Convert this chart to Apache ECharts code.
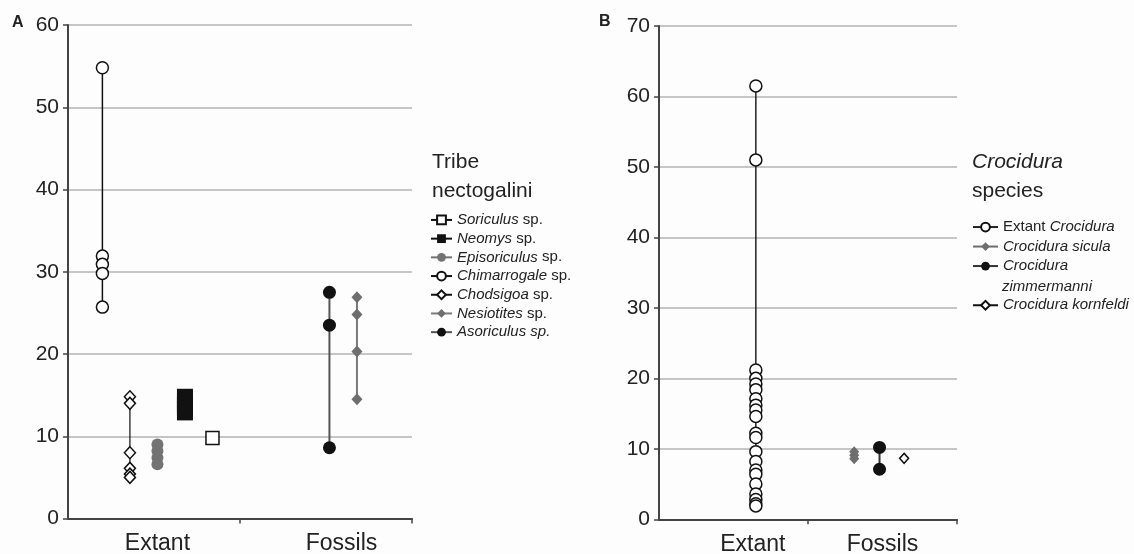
<!DOCTYPE html>
<html>
<head>
<meta charset="utf-8">
<script src="https://cdn.jsdelivr.net/npm/echarts@6/dist/echarts.min.js"></script>
<style>
  html, body { margin: 0; padding: 0; background: #fdfdfd; }
  #chart { width: 1134px; height: 554px; }
</style>
</head>
<body>
<div id="chart"></div>
<script>
// ---- Panel A: tribe Nectogalini ----
const groupsA = ['Extant', 'Fossils'];
const soriculus = [9.8];
const neomys = [14.8, 14.3, 13.8, 13.4, 12.9];
const episoriculus = [9.0, 8.2, 7.4, 6.6];
const chimarrogale = [54.8, 31.9, 30.9, 29.8, 25.7];
const chodsigoa = [14.8, 14.0, 8.0, 6.1, 5.4, 5.0];
const nesiotites = [26.9, 24.8, 20.3, 14.5];
const asoriculus = [27.5, 23.5, 8.6];

// ---- Panel B: Crocidura species ----
const groupsB = ['Extant', 'Fossils'];
const extantCrocidura = [61.5, 51.0, 21.2, 20.0, 19.2, 18.4, 17.1, 16.2, 15.5, 14.6,
                         12.2, 11.6, 9.6, 8.2, 7.0, 6.4, 5.0, 3.6, 2.8, 2.2, 1.9];
const crocSicula = [9.6, 9.1, 8.6];
const crocZimmermanni = [10.2, 7.1];
const crocKornfeldi = [8.65];

// y-axis ranges
const yMaxA = 60, yMaxB = 70, yStep = 10;

const FONT = '"Liberation Sans", Arial, Helvetica, sans-serif';
const TXT = '#222';
const AX = '#444';
const GRIDLINE = '#b3b3b3';

// Horizontal slot of each series inside its group (value axis 0..2, group boundary at 1)
const slotA = { chimarrogale: 0.20, chodsigoa: 0.36, episoriculus: 0.52, neomys: 0.68, soriculus: 0.84,
                asoriculus: 1.52, nesiotites: 1.68 };
const slotB = { extant: 0.65, sicula: 1.31, zimmermanni: 1.48, kornfeldi: 1.645 };

function pts(x, values) { return values.map(v => [x, v]); }

function legendRich(lh) {
  return {
    fontFamily: FONT, fontSize: 15, color: TXT, lineHeight: lh,
    rich: {
      i: { fontFamily: FONT, fontSize: 15, color: TXT, fontStyle: 'italic', lineHeight: lh },
      n: { fontFamily: FONT, fontSize: 15, color: TXT, lineHeight: lh }
    }
  };
}

function xAxisFor(gridIndex, groups, labelPos) {
  return {
    type: 'value', gridIndex, min: 0, max: 2,
    axisLine: { show: true, onZero: false, lineStyle: { color: AX, width: 2 } },
    axisTick: { show: true, customValues: [1, 2], length: 5, lineStyle: { color: AX, width: 1.5 } },
    splitLine: { show: false },
    axisLabel: {
      show: true,
      customValues: labelPos,
      formatter: v => (v < 1 ? groups[0] : groups[1]),
      fontFamily: FONT, fontSize: 23, color: TXT, margin: 14
    }
  };
}

function yAxisFor(gridIndex, max) {
  return {
    type: 'value', gridIndex, min: 0, max, interval: yStep,
    axisLine: { show: true, lineStyle: { color: AX, width: 2 } },
    axisTick: { show: true, length: 5, lineStyle: { color: AX, width: 1.5 } },
    splitLine: { show: true, lineStyle: { color: GRIDLINE, width: 1.5 } },
    axisLabel: { fontFamily: FONT, fontSize: 21, color: TXT, margin: 9 }
  };
}

function species(name, xi, data, symbol, size, fill, border, lineColor, lineWidth) {
  return {
    name, type: 'line', xAxisIndex: xi, yAxisIndex: xi,
    data, symbol, symbolSize: size, showAllSymbol: true,
    itemStyle: { color: fill, borderColor: border, borderWidth: border === fill ? 0 : 1.5, opacity: 1 },
    lineStyle: { color: lineColor, width: lineWidth },
    emphasis: { disabled: true },
    z: 3
  };
}

const seriesA = [
  species('Soriculus sp.', 0, pts(slotA.soriculus, soriculus), 'rect', 13, '#ffffff', '#111111', '#111111', 1.5),
  species('Neomys sp.', 0, pts(slotA.neomys, neomys), 'rect', 16, '#111111', '#111111', '#111111', 1.5),
  species('Episoriculus sp.', 0, pts(slotA.episoriculus, episoriculus), 'circle', 12, '#737373', '#737373', '#737373', 1.5),
  species('Chimarrogale sp.', 0, pts(slotA.chimarrogale, chimarrogale), 'circle', 12, '#ffffff', '#111111', '#111111', 1.5),
  species('Chodsigoa sp.', 0, pts(slotA.chodsigoa, chodsigoa), 'diamond', [11, 12], '#ffffff', '#111111', '#111111', 1.2),
  species('Nesiotites sp.', 0, pts(slotA.nesiotites, nesiotites), 'diamond', [11, 12], '#6e6e6e', '#6e6e6e', '#7a7a7a', 2),
  species('Asoriculus sp.', 0, pts(slotA.asoriculus, asoriculus), 'circle', 13, '#111111', '#111111', '#555555', 2)
];

const seriesB = [
  species('Extant Crocidura', 1, pts(slotB.extant, extantCrocidura), 'circle', 12, '#ffffff', '#111111', '#222222', 1.5),
  species('Crocidura sicula', 1, pts(slotB.sicula, crocSicula), 'diamond', [10, 11], '#6e6e6e', '#6e6e6e', '#6e6e6e', 1.5),
  species('Crocidura zimmermanni', 1, pts(slotB.zimmermanni, crocZimmermanni), 'circle', 13, '#111111', '#111111', '#333333', 2),
  species('Crocidura kornfeldi', 1, pts(slotB.kornfeldi, crocKornfeldi), 'diamond', [9, 10], '#ffffff', '#111111', '#111111', 1.2)
];

// Legend labels: genus names set in italics
const legendLabel = {
  'Soriculus sp.': '{i|Soriculus}{n| sp.}',
  'Neomys sp.': '{i|Neomys}{n| sp.}',
  'Episoriculus sp.': '{i|Episoriculus}{n| sp.}',
  'Chimarrogale sp.': '{i|Chimarrogale}{n| sp.}',
  'Chodsigoa sp.': '{i|Chodsigoa}{n| sp.}',
  'Nesiotites sp.': '{i|Nesiotites}{n| sp.}',
  'Asoriculus sp.': '{i|Asoriculus sp.}',
  'Extant Crocidura': '{n|Extant }{i|Crocidura}',
  'Crocidura sicula': '{i|Crocidura sicula}',
  'Crocidura zimmermanni': '{i|Crocidura}',
  'Crocidura kornfeldi': '{i|Crocidura kornfeldi}'
};

const legendCommon = {
  orient: 'vertical', padding: 0, itemGap: 0, itemHeight: 11,
  selectedMode: false,
  formatter: name => legendLabel[name]
};

const option = {
  backgroundColor: '#fdfdfd',
  animation: false,
  title: [
    { text: 'A', left: 12, top: 15, padding: 0,
      textStyle: { fontFamily: FONT, fontSize: 16, fontWeight: 'bold', color: TXT } },
    { text: 'B', left: 599, top: 14, padding: 0,
      textStyle: { fontFamily: FONT, fontSize: 16, fontWeight: 'bold', color: TXT } },
    { text: 'Tribe\nnectogalini', left: 432, top: 148, padding: 0,
      textStyle: { fontFamily: FONT, fontSize: 21, fontWeight: 'normal', color: TXT, lineHeight: 29 } },
    { text: '{i|Crocidura}\n{n|species}', left: 972, top: 148, padding: 0,
      textStyle: {
        fontFamily: FONT, fontSize: 21, fontWeight: 'normal', color: TXT, lineHeight: 29,
        rich: {
          i: { fontFamily: FONT, fontSize: 21, fontStyle: 'italic', color: TXT, lineHeight: 29 },
          n: { fontFamily: FONT, fontSize: 21, color: TXT, lineHeight: 29 }
        }
      } },
    { text: 'zimmermanni', left: 1002, top: 277, padding: 0,
      textStyle: { fontFamily: FONT, fontSize: 15, fontStyle: 'italic', fontWeight: 'normal', color: TXT, lineHeight: 19.5 } }
  ],
  grid: [
    { left: 68, top: 25, width: 344, height: 493.5, outerBoundsMode: 'none', containLabel: false },
    { left: 659, top: 26, width: 298, height: 493.3, outerBoundsMode: 'none', containLabel: false }
  ],
  xAxis: [
    xAxisFor(0, groupsA, [0.52, 1.59]),
    xAxisFor(1, groupsB, [0.63, 1.5])
  ],
  yAxis: [
    yAxisFor(0, yMaxA),
    yAxisFor(1, yMaxB)
  ],
  legend: [
    Object.assign({}, legendCommon, {
      left: 430, top: 210.6, itemWidth: 21,
      data: seriesA.map(s => s.name),
      textStyle: legendRich(18.7)
    }),
    Object.assign({}, legendCommon, {
      left: 972, top: 217.3, itemWidth: 25,
      data: ['Extant Crocidura', 'Crocidura sicula', 'Crocidura zimmermanni'],
      textStyle: legendRich(19.5)
    }),
    Object.assign({}, legendCommon, {
      left: 972, top: 295.5, itemWidth: 25,
      data: ['Crocidura kornfeldi'],
      textStyle: legendRich(19.5)
    })
  ],
  series: seriesA.concat(seriesB)
};

const chart = echarts.init(document.getElementById('chart'), null, { renderer: 'canvas' });
chart.setOption(option);
</script>
</body>
</html>
